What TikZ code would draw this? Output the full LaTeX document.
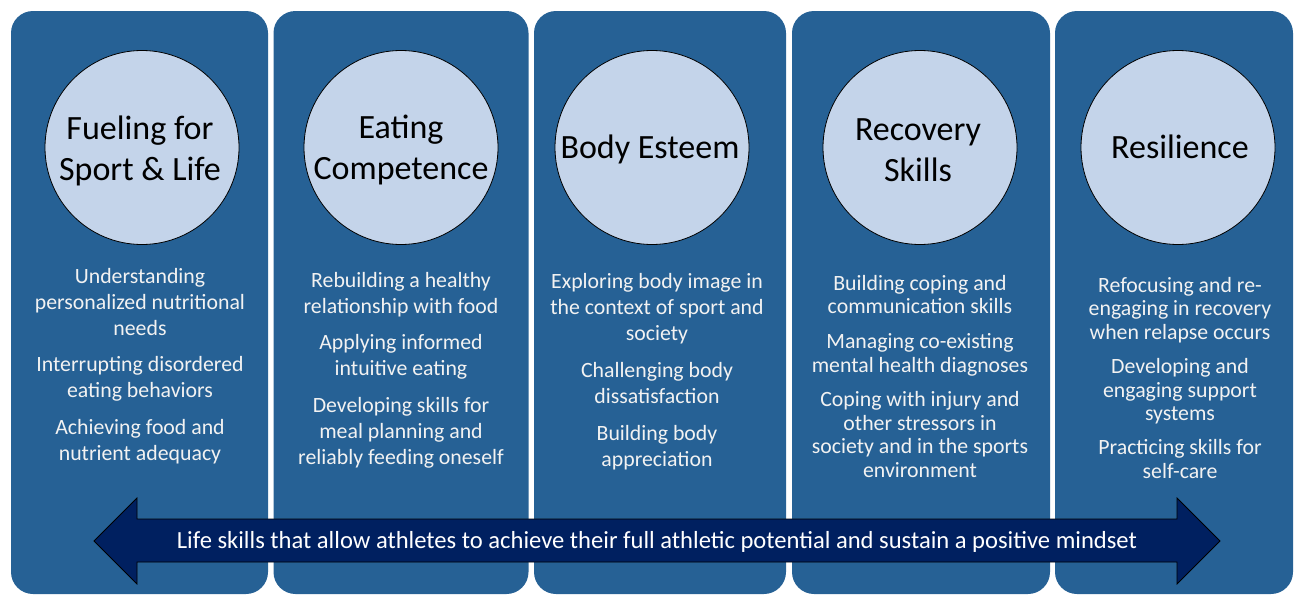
\documentclass[tikz,border=0pt]{standalone}
\usepackage{fontspec}
\setmainfont{Carlito}
\definecolor{panelblue}{RGB}{38,97,149}
\definecolor{discfill}{RGB}{196,212,234}
\definecolor{navy}{RGB}{0,32,96}
\definecolor{offwhite}{RGB}{242,242,242}
\begin{document}
\begin{tikzpicture}[x=1pt,y=-1pt,
  panel/.style={rectangle, rounded corners=22pt, fill=panelblue, draw=none,
    minimum height=583pt, inner sep=0pt},
  disc/.style={circle, fill=discfill, draw=black, line width=0.8pt,
    minimum size=194pt, inner sep=0pt},
  title/.style={anchor=north, inner sep=0pt, align=center, text=black,
    font=\fontsize{34}{40.5}\selectfont},
  bodytext/.style={anchor=north, inner sep=0pt, align=center, text=offwhite,
    font=\fontsize{21.8}{26}\selectfont},
  tight/.style={font=\fontsize{21.8}{23.6}\selectfont},
  banner/.style={text=white, inner sep=0pt, font=\fontsize{24.6}{28}\selectfont}]
\useasboundingbox (0,0) rectangle (1294,595);

% five columns
\node[panel, minimum width=257pt] (p1) at (139.5,302.5) {};
\node[panel, minimum width=255pt] (p2) at (401,302.5) {};
\node[panel, minimum width=252pt] (p3) at (660,302.5) {};
\node[panel, minimum width=258pt] (p4) at (921,302.5) {};
\node[panel, minimum width=238pt] (p5) at (1174,302.5) {};

% headline discs
\node[disc] (c1) at (142,147.5) {};
\node[disc] (c2) at (401,147.5) {};
\node[disc] (c3) at (652,147.5) {};
\node[disc] (c4) at (920,147.5) {};
\node[disc] (c5) at (1178,147.5) {};

\newcommand{\capstrut}{\rule{0pt}{24.5pt}}
\newcommand{\linestrut}{\rule{0pt}{16pt}}

\node[title] (t1) at (140,115) {\capstrut Fueling for\\Sport \& Life};
\node[title] (t2) at (401,114) {\capstrut Eating\\Competence};
\node[title] (t3) at (650,134) {\capstrut Body Esteem};
\node[title] (t4) at (918,116) {\capstrut Recovery\\Skills};
\node[title] (t5) at (1180,134) {\capstrut Resilience};

% skill lists
\node[bodytext] (b1) at (140,267) {\linestrut Understanding\\personalized nutritional\\needs\\[10.5pt]
  Interrupting disordered\\eating behaviors\\[10.5pt]
  Achieving food and\\nutrient adequacy};
\node[bodytext] (b2) at (401,271) {\linestrut Rebuilding a healthy\\relationship with food\\[10.5pt]
  Applying informed\\intuitive eating\\[10.5pt]
  Developing skills for\\meal planning and\\reliably feeding oneself};
\node[bodytext] (b3) at (657,272) {\linestrut Exploring body image in\\the context of sport and\\society\\[11pt]
  Challenging body\\dissatisfaction\\[11pt]
  Building body\\appreciation};
\node[bodytext, tight] (b4) at (920,274) {\linestrut Building coping and\\communication skills\\[11pt]
  Managing co-existing\\mental health diagnoses\\[11pt]
  Coping with injury and\\other stressors in\\society and in the sports\\environment};
\node[bodytext, tight] (b5) at (1180,276) {\linestrut Refocusing and re-\\engaging in recovery\\when relapse occurs\\[10.5pt]
  Developing and\\engaging support\\systems\\[10.5pt]
  Practicing skills for\\self-care};

% two-headed arrow along the bottom
\draw[fill=navy, draw=black, line width=0.8pt]
  (94,541) -- (137,498) -- (137,519) -- (1177,519) -- (1177,498) -- (1220,541)
  -- (1177,584) -- (1177,562) -- (137,562) -- (137,584) -- cycle;
\node[banner] (arrowtext) at (657,542) {Life skills that allow athletes to achieve their full athletic potential and sustain a positive mindset};
\end{tikzpicture}
\end{document}
